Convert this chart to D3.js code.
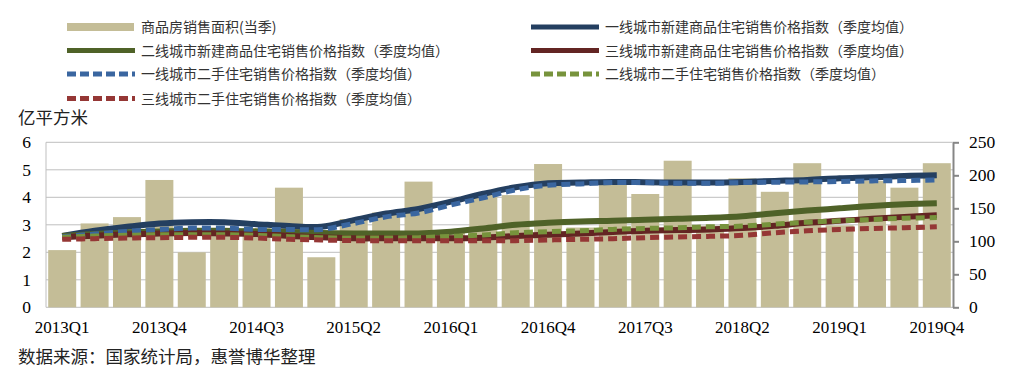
<!DOCTYPE html>
<html>
<head>
<meta charset="utf-8">
<script src="https://cdn.jsdelivr.net/npm/d3@7"></script>
<style>
  body { margin: 0; background: #fff; }
  svg { display: block; }
</style>
</head>
<body>
<div id="canvas"></div>
<script>
const quarters = [
  "2013Q1","2013Q2","2013Q3","2013Q4","2014Q1","2014Q2","2014Q3","2014Q4",
  "2015Q1","2015Q2","2015Q3","2015Q4","2016Q1","2016Q2","2016Q3","2016Q4",
  "2017Q1","2017Q2","2017Q3","2017Q4","2018Q1","2018Q2","2018Q3","2018Q4",
  "2019Q1","2019Q2","2019Q3","2019Q4"
];
const tickLabels = ["2013Q1","2013Q4","2014Q3","2015Q2","2016Q1","2016Q4","2017Q3","2018Q2","2019Q1","2019Q4"];

// 商品房销售面积(当季), 亿平方米
const salesArea = [2.08, 3.05, 3.28, 4.63, 2.0, 2.83, 2.88, 4.35, 1.82, 3.21, 3.45, 4.57, 2.75, 4.08,
  4.08, 5.21, 2.9, 4.63, 4.12, 5.33, 2.97, 4.69, 4.2, 5.24, 2.98, 4.6, 4.35, 5.24];

// price indices (right axis)
const tier1New = [108, 116, 122, 127, 129, 129, 126, 123, 122, 132, 142, 149, 160, 172,
  182, 188, 189, 190, 189.5, 189, 189, 190, 191.5, 193, 195.5, 197, 199, 200];
const tier2New = [108, 111, 113.5, 115, 116, 116, 115, 114, 112.5, 112, 112, 112, 114.5, 119.5,
  125, 128, 130, 131, 132.5, 134, 135.5, 138, 142.5, 146.5, 150, 153.5, 156, 157.5];
const tier3New = [106, 108.5, 110.5, 112, 112.5, 112, 111, 108, 106, 104.5, 104.5, 104.5, 104.5, 105.5,
  108, 110, 112, 114, 116, 117, 118, 120, 123.5, 128, 131, 134, 137, 139.5];
const tier1Sec = [107, 111, 115, 118, 120, 120, 118, 118, 118, 127, 137, 143, 155, 166,
  178, 185, 187, 189, 189, 188, 188, 189, 189.5, 190, 190.5, 191.5, 192, 193];
const tier2Sec = [106, 108, 109, 110, 110, 110, 109, 107, 105.5, 105, 105, 105.5, 107.5, 109.5,
  113, 114.5, 116, 118, 119.5, 120.5, 122, 123, 126, 129, 131, 133, 135, 136];
const tier3Sec = [103, 104, 105, 105.5, 106, 106, 105, 103, 102, 101, 101, 101, 101, 101,
  101, 102, 103, 104, 105.5, 106.5, 107.5, 109, 113, 116, 118, 119.5, 120.5, 122];

const series = [
  { name: "一线城市新建商品住宅销售价格指数（季度均值）", values: tier1New, color: "#243f60", dash: null },
  { name: "二线城市新建商品住宅销售价格指数（季度均值）", values: tier2New, color: "#4f6228", dash: null },
  { name: "三线城市新建商品住宅销售价格指数（季度均值）", values: tier3New, color: "#632523", dash: null },
  { name: "一线城市二手住宅销售价格指数（季度均值）", values: tier1Sec, color: "#3a66a0", dash: "9,5" },
  { name: "二线城市二手住宅销售价格指数（季度均值）", values: tier2Sec, color: "#77933c", dash: "9,5" },
  { name: "三线城市二手住宅销售价格指数（季度均值）", values: tier3Sec, color: "#953735", dash: "9,5" }
];

const width = 1017;
const height = 388;
const margin = { top: 142.3, left: 46, bottom: 80.7, right: 64 };
const iwidth = width - margin.left - margin.right;
const iheight = height - margin.top - margin.bottom;

const svg = d3.select("#canvas").append("svg")
  .attr("width", width)
  .attr("height", height);

const serif = "'Liberation Serif', 'Times New Roman', serif";
const cjk = "'Noto Sans CJK SC', sans-serif";

// legend
const legendItems = [
  { name: "商品房销售面积(当季)", bar: true, color: "#c4bd97" },
  series[0], series[1], series[2], series[3], series[4], series[5]
];
const legend = svg.append("g");
legendItems.forEach((d, i) => {
  const col = i % 2;
  const row = Math.floor(i / 2);
  const lx = col === 0 ? 67 : 531;
  const ly = [27, 50.5, 74, 98.5][row];
  const g = legend.append("g").attr("transform", `translate(${lx},${ly})`);
  if (d.bar) {
    g.append("rect").attr("x", 0).attr("y", -4).attr("width", 67).attr("height", 8).attr("fill", d.color);
  } else {
    g.append("line").attr("x1", 0).attr("x2", 68).attr("y1", 0).attr("y2", 0)
      .attr("stroke", d.color).attr("stroke-width", 5)
      .attr("stroke-dasharray", d.dash ? "9,4" : null);
  }
  g.append("text").attr("x", 74).attr("y", 0).attr("dy", "0.36em")
    .attr("font-family", cjk).attr("font-size", 14).attr("fill", "#333")
    .text(d.name);
});

const g = svg.append("g").attr("transform", `translate(${margin.left},${margin.top})`);

const x = d3.scaleBand()
  .domain(quarters)
  .range([0, iwidth])
  .paddingInner(0.136)
  .paddingOuter(0.068);

const yL = d3.scaleLinear().domain([0, 6]).range([iheight, 0]);
const yR = d3.scaleLinear().domain([0, 250]).range([iheight, 0]);

// gridlines
g.append("g")
  .selectAll("line")
  .data(yL.ticks(6))
  .enter().append("line")
  .attr("x1", 0).attr("x2", iwidth)
  .attr("y1", d => yL(d)).attr("y2", d => yL(d))
  .attr("stroke", "#bfbfbf").attr("stroke-width", 1);

g.append("line")
  .attr("x1", 0).attr("x2", 0).attr("y1", 0).attr("y2", iheight)
  .attr("stroke", "#bfbfbf").attr("stroke-width", 1);

// bars
g.selectAll(".bar")
  .data(salesArea)
  .enter().append("rect")
  .attr("class", "bar")
  .attr("x", (d, i) => x(quarters[i]))
  .attr("y", d => yL(d))
  .attr("width", x.bandwidth())
  .attr("height", d => iheight - yL(d))
  .attr("fill", "#c4bd97");

// lines
const line = d3.line()
  .x((d, i) => x(quarters[i]) + x.bandwidth() / 2)
  .y(d => yR(d))
  .curve(d3.curveCatmullRom.alpha(0.5));

g.selectAll(".series")
  .data(series)
  .enter().append("path")
  .attr("class", "series")
  .attr("d", d => line(d.values))
  .attr("fill", "none")
  .attr("stroke", d => d.color)
  .attr("stroke-width", d => d.dash ? 5 : 6)
  .attr("stroke-dasharray", d => d.dash);

// left axis
const axL = g.append("g")
  .call(d3.axisLeft(yL).ticks(6).tickSize(0).tickPadding(15));
axL.select(".domain").remove();
axL.selectAll("text").attr("font-family", serif).attr("font-size", 17.5).attr("fill", "#000");

// right axis
const axR = g.append("g")
  .attr("transform", `translate(${iwidth},0)`)
  .call(d3.axisRight(yR).tickValues([0, 50, 100, 150, 200, 250]).tickSize(6).tickSizeOuter(0).tickPadding(10));
axR.select(".domain").attr("stroke", "#868686").attr("stroke-width", 2);
axR.selectAll(".tick line").attr("stroke", "#868686").attr("stroke-width", 2);
axR.selectAll("text").attr("font-family", serif).attr("font-size", 17.5).attr("fill", "#000");

// bottom axis
const axB = g.append("g")
  .attr("transform", `translate(0,${iheight})`)
  .call(d3.axisBottom(x).tickValues(tickLabels).tickSize(0).tickPadding(14));
axB.select(".domain").remove();
axB.selectAll("text").attr("font-family", serif).attr("font-size", 17).attr("fill", "#000");

// axis title and source
svg.append("text").attr("x", 18).attr("y", 118).attr("dy", "0.36em")
  .attr("font-family", cjk).attr("font-size", 17.5).attr("fill", "#222")
  .text("亿平方米");

svg.append("text").attr("x", 18).attr("y", 357).attr("dy", "0.36em")
  .attr("font-family", cjk).attr("font-size", 17.5).attr("fill", "#222")
  .text("数据来源：国家统计局，惠誉博华整理");
</script>
</body>
</html>
